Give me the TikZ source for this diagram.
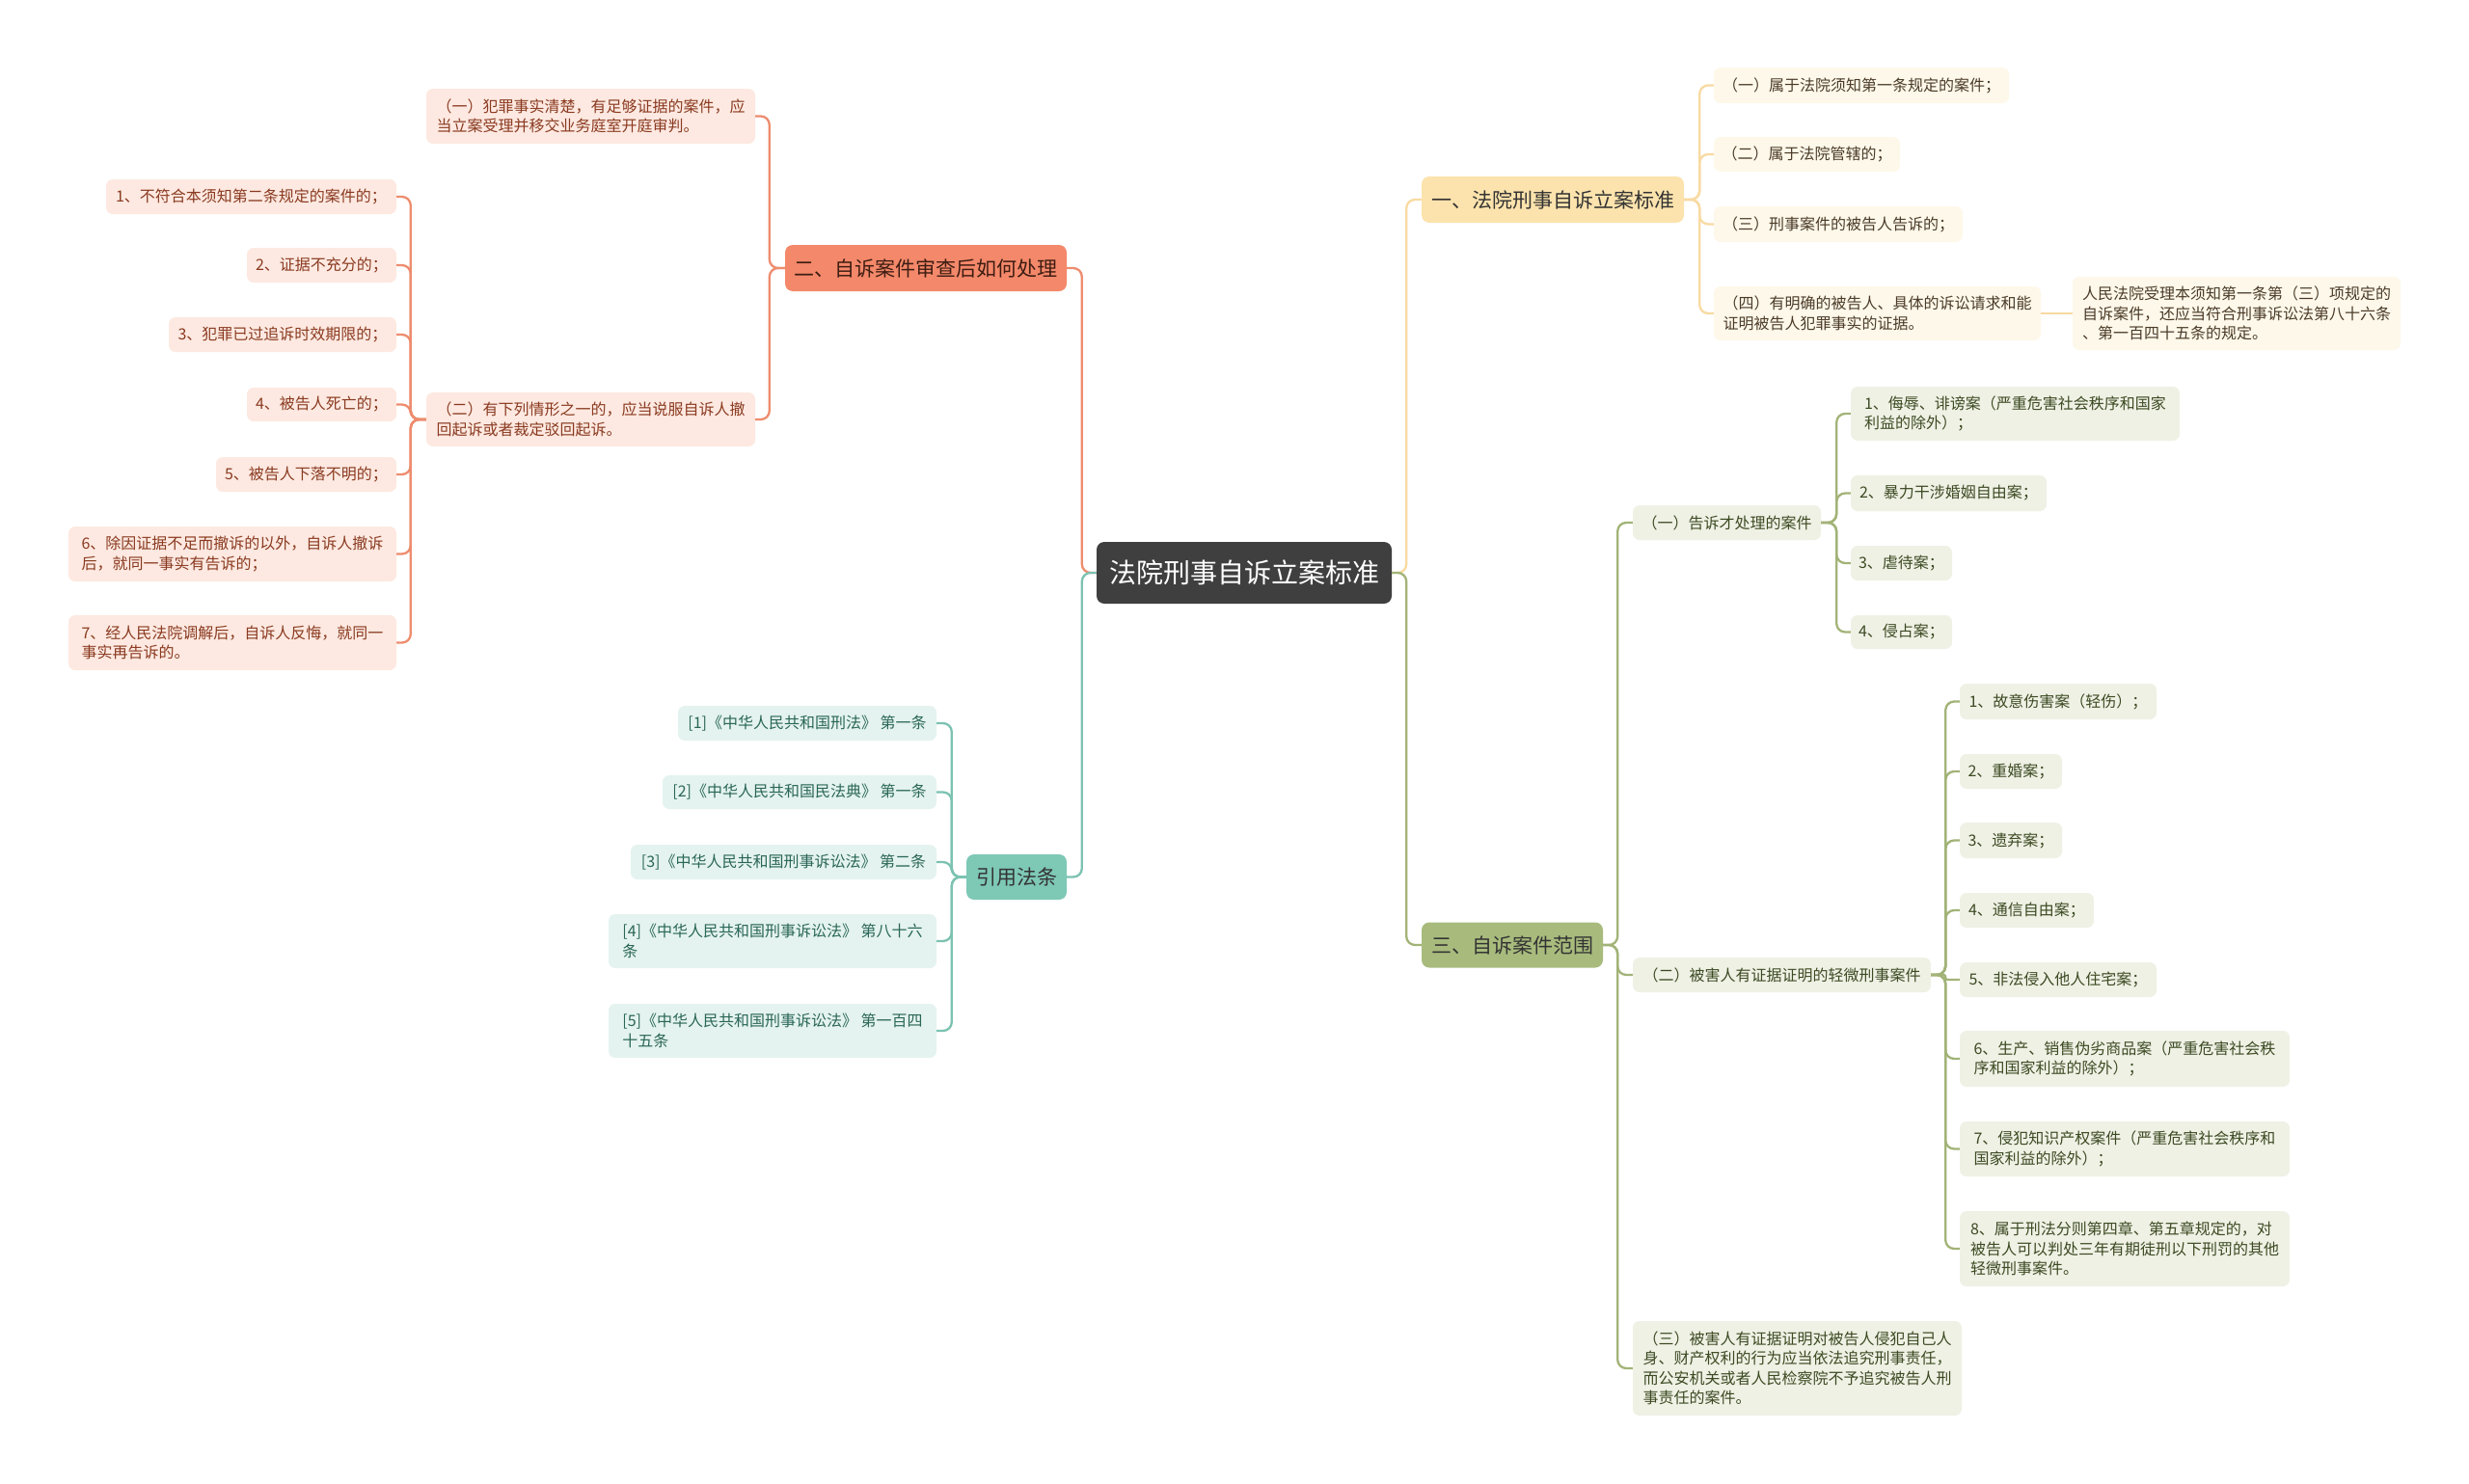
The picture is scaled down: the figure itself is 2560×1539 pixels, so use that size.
\documentclass[tikz,border=0pt]{standalone}
\usepackage{fontspec}
\setmainfont{Noto Sans CJK SC}
\definecolor{cfill}{HTML}{3F3F3F}
\definecolor{ybr}{HTML}{FCE3AD}
\definecolor{yln}{HTML}{F8DAA2}
\definecolor{ylf}{HTML}{FEF8EA}
\definecolor{ytx}{HTML}{4A3B28}
\definecolor{obr}{HTML}{F4886A}
\definecolor{oln}{HTML}{EE8C6E}
\definecolor{olf}{HTML}{FDE9E1}
\definecolor{otx}{HTML}{8A3A20}
\definecolor{obt}{HTML}{3D1D12}
\definecolor{gbr}{HTML}{A8BB7D}
\definecolor{gln}{HTML}{A2B377}
\definecolor{glf}{HTML}{EFF1E5}
\definecolor{gtx}{HTML}{3C4A22}
\definecolor{tbr}{HTML}{7EC8B6}
\definecolor{tln}{HTML}{7CC2B1}
\definecolor{tlf}{HTML}{E4F3EF}
\definecolor{ttx}{HTML}{2A6657}
\tikzset{
  box/.style={rounded corners=7pt, inner sep=0pt, align=left, font=\fontsize{16}{20.5}\selectfont},
  brbox/.style={rounded corners=8pt, inner sep=0pt, align=center, font=\fontsize{21}{26}\selectfont},
  yleaf/.style={box, fill=ylf, text=ytx},
  oleaf/.style={box, fill=olf, text=otx},
  gleaf/.style={box, fill=glf, text=gtx},
  tleaf/.style={box, fill=tlf, text=ttx},
  conn/.style={line width=2.3pt, rounded corners=9pt},
  yconn/.style={conn, draw=yln},
  oconn/.style={conn, draw=oln},
  gconn/.style={conn, draw=gln},
  tconn/.style={conn, draw=tln},
}
\begin{document}
\begin{tikzpicture}[x=1pt, y=-1pt]
\useasboundingbox (0,0) rectangle (2560,1539);
\fill[white] (0,0) rectangle (2560,1539);

% center
\node[rounded corners=8pt, fill=cfill, text=white, inner sep=0pt, minimum width=306pt, minimum height=64pt, font=\fontsize{28}{32}\selectfont] (c) at (1290,594) {法院刑事自诉立案标准};

% branches
\node[brbox, fill=ybr, text=black!80, minimum width=272pt, minimum height=48pt] (b1) at (1610,207) {一、法院刑事自诉立案标准};
\node[brbox, fill=obr, text=obt, minimum width=292pt, minimum height=48pt] (b2) at (960,278) {二、自诉案件审查后如何处理};
\node[brbox, fill=gbr, text=black!80, minimum width=188pt, minimum height=47pt] (b3) at (1568,980) {三、自诉案件范围};
\node[brbox, fill=tbr, text=black!80, minimum width=104pt, minimum height=47pt] (b4) at (1054,909.5) {引用法条};

% branch 1 children
\node[yleaf, minimum width=306pt, minimum height=37pt] (a1) at (1930,88.5) {（一）属于法院须知第一条规定的案件；};
\node[yleaf, minimum width=193pt, minimum height=36pt] (a2) at (1873.5,160) {（二）属于法院管辖的；};
\node[yleaf, minimum width=258pt, minimum height=37pt] (a3) at (1906,232.5) {（三）刑事案件的被告人告诉的；};
\node[yleaf, minimum width=339pt, minimum height=56pt] (a4) at (1946.5,325) {（四）有明确的被告人、具体的诉讼请求和能\\证明被告人犯罪事实的证据。};
\node[yleaf, minimum width=340pt, minimum height=76pt] (a5) at (2319,325) {人民法院受理本须知第一条第（三）项规定的\\自诉案件，还应当符合刑事诉讼法第八十六条\\、第一百四十五条的规定。};

% branch 3 children
\node[gleaf, minimum width=195pt, minimum height=36pt] (g1) at (1790.5,542) {（一）告诉才处理的案件};
\node[gleaf, minimum width=309pt, minimum height=36pt] (g2) at (1847.5,1011) {（二）被害人有证据证明的轻微刑事案件};
\node[gleaf, minimum width=341pt, minimum height=98pt] (g3) at (1863.5,1419) {（三）被害人有证据证明对被告人侵犯自己人\\身、财产权利的行为应当依法追究刑事责任，\\而公安机关或者人民检察院不予追究被告人刑\\事责任的案件。};

\node[gleaf, minimum width=341pt, minimum height=56pt] (h1) at (2089.5,429) {1、侮辱、诽谤案（严重危害社会秩序和国家\\利益的除外）；};
\node[gleaf, minimum width=203pt, minimum height=37pt] (h2) at (2020.5,511.5) {2、暴力干涉婚姻自由案；};
\node[gleaf, minimum width=105pt, minimum height=36pt] (h3) at (1971.5,584) {3、虐待案；};
\node[gleaf, minimum width=105pt, minimum height=35pt] (h4) at (1971.5,655.5) {4、侵占案；};

\node[gleaf, minimum width=204pt, minimum height=37pt] (i1) at (2134,727.5) {1、故意伤害案（轻伤）；};
\node[gleaf, minimum width=106pt, minimum height=36pt] (i2) at (2085,800) {2、重婚案；};
\node[gleaf, minimum width=106pt, minimum height=37pt] (i3) at (2085,871.5) {3、遗弃案；};
\node[gleaf, minimum width=139pt, minimum height=36pt] (i4) at (2101.5,944) {4、通信自由案；};
\node[gleaf, minimum width=204pt, minimum height=36pt] (i5) at (2134,1016) {5、非法侵入他人住宅案；};
\node[gleaf, minimum width=342pt, minimum height=58pt] (i6) at (2203,1098) {6、生产、销售伪劣商品案（严重危害社会秩\\序和国家利益的除外）；};
\node[gleaf, minimum width=342pt, minimum height=57pt] (i7) at (2203,1191.5) {7、侵犯知识产权案件（严重危害社会秩序和\\国家利益的除外）；};
\node[gleaf, minimum width=342pt, minimum height=78pt] (i8) at (2203,1295) {8、属于刑法分则第四章、第五章规定的，对\\被告人可以判处三年有期徒刑以下刑罚的其他\\轻微刑事案件。};

% branch 2 children
\node[oleaf, minimum width=341pt, minimum height=57pt] (o1) at (612.5,120.5) {（一）犯罪事实清楚，有足够证据的案件，应\\当立案受理并移交业务庭室开庭审判。};
\node[oleaf, minimum width=341pt, minimum height=56pt] (o2) at (612.5,435) {（二）有下列情形之一的，应当说服自诉人撤\\回起诉或者裁定驳回起诉。};
\node[oleaf, minimum width=301pt, minimum height=36pt] (p1) at (260.5,204) {1、不符合本须知第二条规定的案件的；};
\node[oleaf, minimum width=155pt, minimum height=36pt] (p2) at (333.5,275) {2、证据不充分的；};
\node[oleaf, minimum width=236pt, minimum height=36pt] (p3) at (293,347) {3、犯罪已过追诉时效期限的；};
\node[oleaf, minimum width=155pt, minimum height=35pt] (p4) at (333.5,419.5) {4、被告人死亡的；};
\node[oleaf, minimum width=187pt, minimum height=36pt] (p5) at (317.5,492) {5、被告人下落不明的；};
\node[oleaf, minimum width=340pt, minimum height=57pt] (p6) at (241,574.5) {6、除因证据不足而撤诉的以外，自诉人撤诉\\后，就同一事实有告诉的；};
\node[oleaf, minimum width=340pt, minimum height=57pt] (p7) at (241,666.5) {7、经人民法院调解后，自诉人反悔，就同一\\事实再告诉的。};

% branch 4 children
\node[tleaf, minimum width=268pt, minimum height=36pt] (r1) at (837,750) {[1]《中华人民共和国刑法》 第一条};
\node[tleaf, minimum width=284pt, minimum height=35pt] (r2) at (829,821.5) {[2]《中华人民共和国民法典》 第一条};
\node[tleaf, minimum width=317pt, minimum height=36pt] (r3) at (812.5,894) {[3]《中华人民共和国刑事诉讼法》 第二条};
\node[tleaf, minimum width=340pt, minimum height=56pt] (r4) at (801,976) {[4]《中华人民共和国刑事诉讼法》 第八十六\\条};
\node[tleaf, minimum width=340pt, minimum height=56pt] (r5) at (801,1069) {[5]《中华人民共和国刑事诉讼法》 第一百四\\十五条};

% connectors: center
\draw[oconn] (c.west) -- ++(-15,0) |- (b2.east);
\draw[tconn] (c.west) -- ++(-15,0) |- (b4.east);
\draw[yconn] (c.east) -- ++(15,0) |- (b1.west);
\draw[gconn] (c.east) -- ++(15,0) |- (b3.west);

% branch 1
\foreach \n in {a1,a2,a3,a4} \draw[yconn] (b1.east) -- ++(16,0) |- (\n.west);
\draw[yconn] (a4.east) -- (a5.west);

% branch 3
\foreach \n in {g1,g2,g3} \draw[gconn] (b3.east) -- ++(15,0) |- (\n.west);
\foreach \n in {h1,h2,h3,h4} \draw[gconn] (g1.east) -- ++(16,0) |- (\n.west);
\foreach \n in {i1,i2,i3,i4,i6,i7,i8} \draw[gconn] (g2.east) -- ++(15,0) |- (\n.west);
\draw[gconn, rounded corners=2pt] (g2.east) -- ++(15,0) |- (i5.west);

% branch 2
\foreach \n in {o1,o2} \draw[oconn] (b2.west) -- ++(-16,0) |- (\n.east);
\foreach \n in {p1,p2,p3,p4,p5,p6,p7} \draw[oconn] (o2.west) -- ++(-16,0) |- (\n.east);

% branch 4
\foreach \n in {r1,r2,r3,r4,r5} \draw[tconn] (b4.west) -- ++(-15,0) |- (\n.east);
\end{tikzpicture}
\end{document}
